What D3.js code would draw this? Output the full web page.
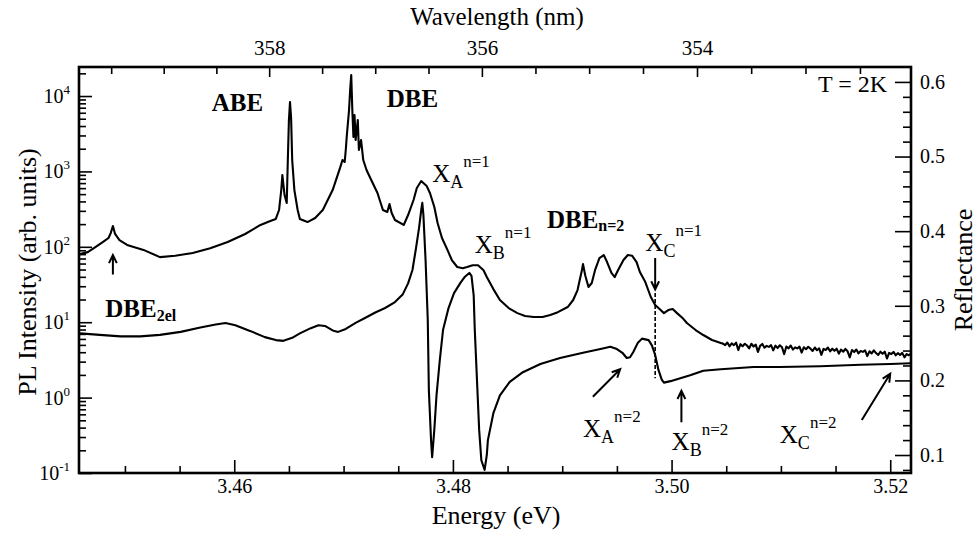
<!DOCTYPE html>
<html><head><meta charset="utf-8">
<script src="https://cdn.jsdelivr.net/npm/d3@7"></script>
<style>
body{margin:0;background:#fff}
svg text{font-family:"Liberation Serif","Times New Roman",serif !important;fill:#000}
</style>
</head><body>
<svg id="chart" width="979" height="537" font-family="Liberation Serif"></svg>
<script>
// ---------------- data ----------------
const energyDomain = [3.4458, 3.5219];
const plDomain = [0.1, 24270];
const reflDomain = [0.0759, 0.620];
const HC = 1239.84;

const energyTicks = [3.46, 3.48, 3.50, 3.52];
const energyMinorTicks = [3.450,3.455,3.465,3.470,3.475,3.485,3.490,3.495,3.505,3.510,3.515];
const wavelengthTicks = [358, 356, 354];
const wavelengthMinorTicks = [359.5,359,358.5,357.5,357,356.5,355.5,355,354.5,353.5,353,352.5];
const plDecades = [-1, 0, 1, 2, 3, 4];
const reflTicks = [0.1, 0.2, 0.3, 0.4, 0.5, 0.6];
const reflMinorTicks = [0.08,0.12,0.14,0.16,0.18,0.22,0.24,0.26,0.28,0.32,0.34,0.36,0.38,0.42,0.44,0.46,0.48,0.52,0.54,0.56,0.58];

// PL spectrum (left, log axis)
const plEnergy = [3.4459,3.4466,3.4473,3.4480,3.4485,3.4487,3.4489,3.4491,3.4495,3.4502,3.4517,3.4532,3.4546,3.4562,3.4578,3.4594,3.4610,3.4624,3.4633,3.4638,
3.4641,3.4643,3.4644,3.4646,3.4648,3.4649,3.4650,3.4651,3.4652,3.4653,3.4655,3.4658,3.4660,3.4667,3.4674,3.4681,3.4690,3.4697,3.4699,3.4701,
3.4702,3.4703,3.4705,3.4706,3.4707,3.4708,3.4709,3.4710,3.4711,3.4713,3.4714,3.4716,3.4718,3.4721,3.4724,3.4731,3.4736,3.4740,3.4742,3.4744,
3.4747,3.4755,3.4759,3.4764,3.4767,3.4771,3.4776,3.4779,3.4783,3.4786,3.4790,3.4795,3.4799,3.4804,3.4809,3.4813,3.4818,3.4823,3.4828,3.4831,
3.4837,3.4843,3.4851,3.4859,3.4866,3.4874,3.4882,3.4889,3.4896,3.4905,3.4910,3.4914,3.4916,3.4918,3.4919,3.4921,3.4924,3.4927,3.4930,3.4934,
3.4938,3.4941,3.4945,3.4948,3.4951,3.4956,3.4960,3.4964,3.4968,3.4971,3.4976,3.4981,3.4985,3.4990,3.4993,3.4997,3.5001,3.5005,3.5010,3.5014,
3.5022,3.5029,3.5037,3.5045];
const plIntensity = [80,85,99,116,131,152,189,148,123,106,91,73,76,83,96,116,148,195,220,234,
308,566,895,486,381,1416,4808,8320,5110,1416,566,308,234,213,241,308,566,1143,1416,1334,
1923,3041,6516,12020,19010,6516,2858,5600,2606,4808,1923,2606,1416,1045,843,518,308,290,370,281,
227,195,264,418,603,746,640,518,337,207,131,91,66.8,54,52,54,57,57,49,39.7,
27.5,19.7,15.4,13.2,12.1,11.7,11.7,12.5,13.6,15.9,19.7,26.7,36.3,49,59,42,29.3,33.1,49,71,
77.8,62.8,45,39.7,49,66.8,77.8,76,62.8,46.3,34.1,21.6,16.9,14.5,13.2,14.5,15.0,13.2,11.4,9.76,
7.88,6.76,5.81,5.30];
// noisy high-energy tail of the PL spectrum
const plTailEnergy = [3.5047,3.5049,3.5051,3.5053,3.5055,3.5057,3.5059,3.5061,3.5063,3.5065,3.5067,3.5069,3.5071,3.5073,3.5075,3.5077,3.5079,3.5081,3.5083,3.5085,
3.5087,3.5089,3.5091,3.5093,3.5095,3.5097,3.5099,3.5101,3.5103,3.5105,3.5107,3.5109,3.5111,3.5113,3.5115,3.5117,3.5119,3.5121,3.5123,3.5125,
3.5127,3.5129,3.5131,3.5133,3.5135,3.5137,3.5139,3.5141,3.5143,3.5145,3.5147,3.5149,3.5151,3.5153,3.5155,3.5157,3.5159,3.5161,3.5163,3.5165,
3.5167,3.5169,3.5171,3.5173,3.5175,3.5177,3.5179,3.5181,3.5183,3.5185,3.5187,3.5189,3.5191,3.5193,3.5195,3.5197,3.5199,3.5201,3.5203,3.5205,
3.5207,3.5209,3.5211,3.5213,3.5215,3.5217,3.5219];
const plTailIntensity = [5.20,4.97,5.38,4.79,5.23,4.97,5.36,4.27,5.11,4.80,5.18,4.91,4.50,5.18,4.76,5.05,4.04,4.86,5.15,4.59,
4.86,4.70,4.97,4.23,4.89,4.54,4.95,4.65,3.78,4.76,4.50,4.91,4.33,4.64,4.49,4.75,3.95,4.66,4.38,4.72,
4.47,4.15,4.62,4.25,4.50,3.69,4.42,4.28,4.61,4.11,4.45,4.17,4.45,3.83,4.33,4.06,4.42,4.11,3.42,4.28,
4.02,4.34,3.86,4.14,4.04,4.22,3.55,4.11,3.85,4.23,3.90,3.68,4.06,3.81,4.07,3.30,3.92,3.78,4.04,3.64,
3.89,3.68,3.92,3.42,3.78,3.65,3.83];

// Reflectance spectrum (right, linear axis)
const reflEnergy = [3.4459,3.4477,3.4496,3.4514,3.4532,3.4551,3.4569,3.4583,3.4592,3.4601,3.4615,3.4628,3.4638,3.4645,3.4653,3.4660,3.4670,3.4677,3.4683,3.4690,
3.4695,3.4702,3.4711,3.4720,3.4729,3.4738,3.4747,3.4754,3.4759,3.4763,3.4766,3.4769,3.4771,3.4772,3.4773,3.4775,3.4777,3.4778,3.4780,3.4781,
3.4783,3.4785,3.4788,3.4791,3.4796,3.4801,3.4807,3.4811,3.4815,3.4817,3.4819,3.4820,3.4822,3.4824,3.4826,3.4829,3.4831,3.4832,3.4837,3.4843,
3.4852,3.4864,3.4880,3.4898,3.4919,3.4935,3.4944,3.4950,3.4955,3.4959,3.4962,3.4965,3.4969,3.4973,3.4979,3.4982,3.4985,3.4988,3.4991,3.4993,
3.4999,3.5008,3.5017,3.5029,3.5045,3.5075,3.5099,3.5136,3.5173,3.5200,3.5219];
const reflectance = [0.263,0.261,0.259,0.259,0.261,0.265,0.271,0.275,0.277,0.274,0.266,0.258,0.254,0.253,0.257,0.263,0.270,0.274,0.273,0.267,
0.265,0.269,0.277,0.284,0.291,0.297,0.305,0.315,0.330,0.348,0.375,0.404,0.428,0.438,0.422,0.361,0.281,0.187,0.120,0.097,
0.134,0.180,0.227,0.268,0.297,0.317,0.331,0.339,0.344,0.340,0.314,0.268,0.201,0.134,0.093,0.080,0.100,0.120,0.156,0.180,
0.198,0.211,0.222,0.230,0.237,0.242,0.245,0.242,0.237,0.230,0.231,0.238,0.250,0.256,0.254,0.247,0.234,0.214,0.201,0.197,
0.199,0.203,0.207,0.213,0.215,0.218,0.218,0.219,0.221,0.222,0.223];

// annotations: positions in [energy, reflectance-axis value]
const boldLabels = [
  {t:"ABE", e:3.4603, r:0.561},
  {t:"DBE", e:3.4763, r:0.5665}
];
const excitonLabels = [
  {main:"X", sub:"A", sup:"n=1", e:3.4781, r:0.466},
  {main:"X", sub:"B", sup:"n=1", e:3.4820, r:0.371},
  {main:"X", sub:"C", sup:"n=1", e:3.4976, r:0.374},
  {main:"X", sub:"A", sup:"n=2", e:3.4919, r:0.124},
  {main:"X", sub:"B", sup:"n=2", e:3.5000, r:0.107},
  {main:"X", sub:"C", sup:"n=2", e:3.5099, r:0.116}
];
const arrows = [
  {e1:3.4489, r1:0.342, e2:3.4489, r2:0.368},
  {e1:3.4985, r1:0.364, e2:3.4985, r2:0.322},
  {e1:3.4928, r1:0.178, e2:3.4953, r2:0.215},
  {e1:3.5009, r1:0.144, e2:3.5009, r2:0.186},
  {e1:3.5174, r1:0.147, e2:3.5200, r2:0.209}
];
const dashedMarker = {e:3.4985, r1:0.317, r2:0.203};

// ---------------- drawing ----------------
const svg = d3.select("#chart");
const L = 79, R = 911, T = 67, B = 473;
const x = d3.scaleLinear().domain(energyDomain).range([L, R]);
const yL = d3.scaleLog().domain(plDomain).range([B, T]);
const yR = d3.scaleLinear().domain(reflDomain).range([B, T]);
const FONT = "Liberation Serif, Times New Roman, serif";

function styleAxis(g){
  g.attr("font-family", FONT);
  g.select(".domain").remove();
  g.selectAll("line").attr("stroke","#000").attr("stroke-width",1.6);
}
svg.append("g").attr("transform",`translate(0,${B})`)
  .call(d3.axisBottom(x).tickValues(energyMinorTicks).tickSize(-7).tickFormat(""))
  .call(styleAxis);
svg.append("g").attr("transform",`translate(0,${B})`)
  .call(d3.axisBottom(x).tickValues(energyTicks).tickSize(-13).tickPadding(14).tickFormat(d3.format(".2f")))
  .call(styleAxis)
  .call(g=>g.selectAll("text").attr("font-size",20).attr("dy","0.3em"));

// left axis (log)
const plMinor = [];
plDecades.forEach(d => { for (let m=2;m<=9;m++){ const v=m*Math.pow(10,d); if (v<plDomain[1]) plMinor.push(v);} });
svg.append("g").attr("transform",`translate(${L},0)`)
  .call(d3.axisLeft(yL).tickValues(plMinor).tickSize(-7).tickFormat(""))
  .call(styleAxis);
svg.append("g").attr("transform",`translate(${L},0)`)
  .call(d3.axisLeft(yL).tickValues(plDecades.map(d=>Math.pow(10,d))).tickSize(-13).tickFormat(""))
  .call(styleAxis);
const lt = svg.append("g").selectAll("text").data(plDecades).join("text")
  .attr("x", 70).attr("y", d => yL(Math.pow(10,d)) + 7)
  .attr("text-anchor","end").attr("font-size",20);
lt.append("tspan").text("10");
lt.append("tspan").attr("font-size",13).attr("dy",-9).text(d=>d);

// right axis
svg.append("g").attr("transform",`translate(${R},0)`)
  .call(d3.axisRight(yR).tickValues(reflMinorTicks).tickSize(-8).tickFormat(""))
  .call(styleAxis);
svg.append("g").attr("transform",`translate(${R},0)`)
  .call(d3.axisRight(yR).tickValues(reflTicks).tickSize(-16).tickPadding(9).tickFormat(d3.format(".1f")))
  .call(styleAxis)
  .call(g=>g.selectAll("text").attr("font-size",20));

// top axis (wavelength)
const topAxis = svg.append("g");
topAxis.selectAll("line.minor").data(wavelengthMinorTicks).join("line").attr("class","minor")
  .attr("x1", d=>x(HC/d)).attr("x2", d=>x(HC/d)).attr("y1",T).attr("y2",T+7)
  .attr("stroke","#000").attr("stroke-width",1.6);
topAxis.selectAll("line.major").data(wavelengthTicks).join("line").attr("class","major")
  .attr("x1", d=>x(HC/d)).attr("x2", d=>x(HC/d)).attr("y1",T).attr("y2",T+10)
  .attr("stroke","#000").attr("stroke-width",1.6);
topAxis.selectAll("text").data(wavelengthTicks).join("text")
  .attr("x", d=>x(HC/d)).attr("y", 55).attr("text-anchor","middle").attr("font-size",21).text(d=>d);

// frame
svg.append("rect").attr("x",L).attr("y",T).attr("width",R-L).attr("height",B-T)
  .attr("fill","none").attr("stroke","#000").attr("stroke-width",2.6);

// curves
const plAllE = plEnergy.concat(plTailEnergy);
const plAllI = plIntensity.concat(plTailIntensity);
const plLine = d3.line().x((d,i)=>x(plAllE[i])).y((d,i)=>yL(plAllI[i]));
const rLine = d3.line().x((d,i)=>x(reflEnergy[i])).y((d,i)=>yR(reflectance[i]));
svg.append("path").attr("d", plLine(plAllE)).attr("fill","none").attr("stroke","#000")
  .attr("stroke-width",2.1).attr("stroke-linejoin","round");
svg.append("path").attr("d", rLine(reflEnergy)).attr("fill","none").attr("stroke","#000")
  .attr("stroke-width",2.1).attr("stroke-linejoin","round");

// dashed marker
svg.append("line").attr("x1",x(dashedMarker.e)).attr("x2",x(dashedMarker.e))
  .attr("y1",yR(dashedMarker.r1)).attr("y2",yR(dashedMarker.r2))
  .attr("stroke","#000").attr("stroke-width",1.6).attr("stroke-dasharray","4,2");

// arrows
arrows.forEach(a => {
  const x1=x(a.e1), y1=yR(a.r1), x2=x(a.e2), y2=yR(a.r2);
  const ang = Math.atan2(y2-y1, x2-x1), hl = 9, ha = 0.45;
  svg.append("path")
    .attr("d", `M${x1},${y1}L${x2},${y2}M${x2-hl*Math.cos(ang-ha)},${y2-hl*Math.sin(ang-ha)}L${x2},${y2}L${x2-hl*Math.cos(ang+ha)},${y2-hl*Math.sin(ang+ha)}`)
    .attr("fill","none").attr("stroke","#000").attr("stroke-width",2);
});

// labels
boldLabels.forEach(l => {
  svg.append("text").attr("x",x(l.e)).attr("y",yR(l.r)).attr("text-anchor","middle")
    .attr("font-size",25).attr("font-weight","bold").text(l.t);
});
{
  const t = svg.append("text").attr("x",x(3.4886)).attr("y",yR(0.404)).attr("font-size",25).attr("font-weight","bold");
  t.append("tspan").text("DBE");
  t.append("tspan").attr("font-size",16).attr("dy",3).text("n=2");
}
{
  const t = svg.append("text").attr("x",x(3.4482)).attr("y",yR(0.285)).attr("font-size",25).attr("font-weight","bold");
  t.append("tspan").text("DBE");
  t.append("tspan").attr("font-size",16).attr("dy",4).text("2el");
}
svg.append("text").attr("x",x(3.5134)).attr("y",yR(0.5866)).attr("font-size",24).text("T = 2K");

excitonLabels.forEach(l => {
  const t = svg.append("text").attr("x",x(l.e)).attr("y",yR(l.r)).attr("font-size",25);
  t.append("tspan").text(l.main);
  t.append("tspan").attr("font-size",18).attr("dy",6).text(l.sub);
  t.append("tspan").attr("font-size",17).attr("dy",-21).text(l.sup);
});

// axis titles
svg.append("text").attr("x",497).attr("y",25).attr("text-anchor","middle").attr("font-size",25).text("Wavelength (nm)");
svg.append("text").attr("x",496).attr("y",524).attr("text-anchor","middle").attr("font-size",26).text("Energy (eV)");
svg.append("text").attr("transform","translate(36,272) rotate(-90)").attr("text-anchor","middle").attr("font-size",26).text("PL Intensity (arb. units)");
svg.append("text").attr("transform","translate(972,270) rotate(-90)").attr("text-anchor","middle").attr("font-size",26).text("Reflectance");
</script>
</body></html>
